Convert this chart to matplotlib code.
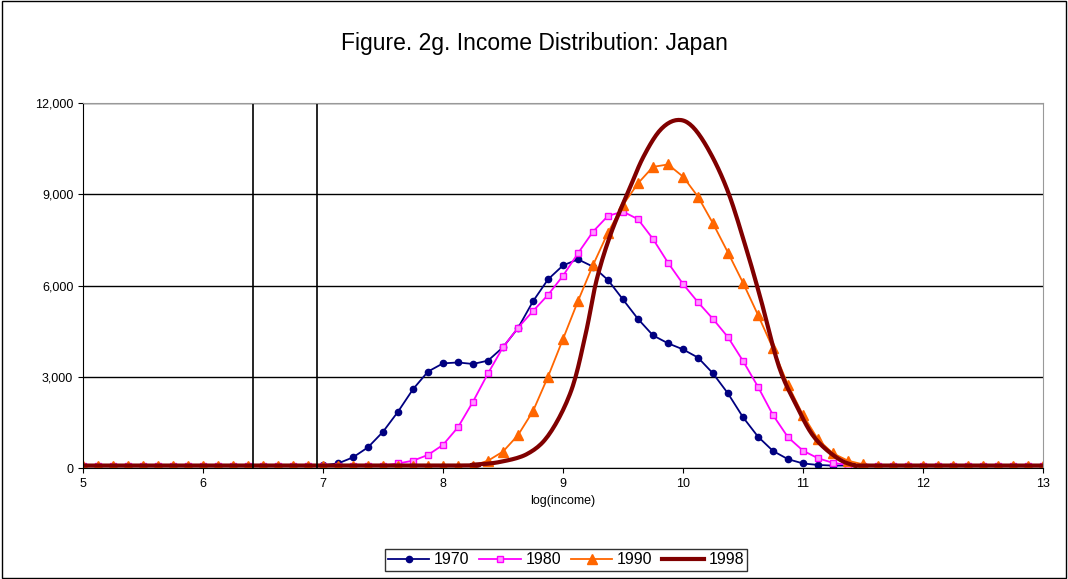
import numpy as np
import matplotlib
matplotlib.use('Agg')
import matplotlib.pyplot as plt
from matplotlib.ticker import FuncFormatter

# x grid: log(income) from 5 to 13, step 1/8
x = 5 + 0.125 * np.arange(65)
floor = 80

y1970 = [floor] * 16 + [90, 150, 350, 680, 1190, 1850, 2590, 3170, 3440, 3470, 3420, 3530,
                        3970, 4600, 5480, 6200, 6660, 6860, 6620, 6180, 5540, 4900, 4360,
                        4100, 3900, 3630, 3110, 2450, 1670, 1030, 560, 290, 150, 100]
y1970 += [floor] * (65 - len(y1970))

y1980 = [floor] * 21 + [150, 240, 430, 760, 1340, 2180, 3110, 3970, 4610, 5160, 5690, 6320,
                        7060, 7770, 8290, 8430, 8180, 7530, 6750, 6050, 5450, 4900, 4300,
                        3520, 2670, 1740, 1010, 570, 320, 170, 100]
y1980 += [floor] * (65 - len(y1980))

y1990 = [floor] * 26 + [80, 240, 540, 1080, 1870, 3000, 4240, 5490, 6670, 7740, 8650, 9360,
                        9900, 9980, 9580, 8920, 8040, 7080, 6090, 5030, 3930, 2730, 1740,
                        940, 480, 240, 120]
y1990 += [floor] * (65 - len(y1990))

x1998 = [5.0, 8.0, 8.25, 8.475, 8.71, 8.89, 9.07, 9.19, 9.28, 9.40, 9.55, 9.67, 9.81, 9.95,
         10.08, 10.23, 10.38, 10.53, 10.65, 10.80, 10.95, 11.09, 11.27, 11.42, 11.6, 13.0]
y1998 = [floor, floor, 110, 200, 480, 1140, 2560, 4430, 6180, 7720, 9140, 10230, 11110, 11440,
         11220, 10340, 9030, 7170, 5520, 3330, 2020, 1030, 370, 100, floor, floor]


def smooth(xs, ys, n=12):
    # Catmull-Rom style smoothing, like Excel's smoothed line
    xs, ys = np.asarray(xs, float), np.asarray(ys, float)
    px = np.concatenate([[xs[0]], xs, [xs[-1]]])
    py = np.concatenate([[ys[0]], ys, [ys[-1]]])
    ox, oy = [], []
    for i in range(1, len(px) - 2):
        t = np.linspace(0, 1, n, endpoint=False)
        for p, o in ((px, ox), (py, oy)):
            p0, p1, p2, p3 = p[i - 1], p[i], p[i + 1], p[i + 2]
            o.extend(0.5 * ((2 * p1) + (-p0 + p2) * t + (2 * p0 - 5 * p1 + 4 * p2 - p3) * t ** 2
                            + (-p0 + 3 * p1 - 3 * p2 + p3) * t ** 3))
    ox.append(xs[-1])
    oy.append(ys[-1])
    return ox, oy


fig = plt.figure(figsize=(10.68, 5.79), dpi=100)
fig.patches.append(plt.Rectangle((0.002, 0.002), 0.996, 0.996, transform=fig.transFigure,
                                 fill=False, edgecolor='black', linewidth=1))
ax = fig.add_axes([0.0777, 0.1917, 0.8989, 0.6304])

ax.plot(x, y1970, color='#000080', marker='o', markersize=4.5, linewidth=1.3, label='1970')
ax.plot(x, y1980, color='#FF00FF', marker='s', markersize=5, markerfacecolor='#FF99FF',
        linewidth=1.3, label='1980')
ax.plot(x, y1990, color='#FF6600', marker='^', markersize=6.5, linewidth=1.3, label='1990')
sx, sy = smooth(x1998, y1998)
ax.plot(sx, sy, color='#800000', linewidth=3, label='1998')

ax.set_xlim(5, 13)
ax.set_ylim(0, 12000)
ax.set_yticks([0, 3000, 6000, 9000, 12000])
ax.set_xticks(range(5, 14))
ax.yaxis.set_major_formatter(FuncFormatter(lambda v, p: f'{int(v):,}'))
ax.grid(axis='y', color='black', linewidth=1)
for xv in [6.42, 6.95]:
    ax.axvline(xv, color='black', linewidth=1.2)
ax.set_axisbelow(True)
for s in ['top', 'right']:
    ax.spines[s].set_color('#999999')
ax.tick_params(labelsize=9, direction='out')
ax.set_xlabel('log(income)', fontsize=9, family='Liberation Sans')
for lab in ax.get_xticklabels() + ax.get_yticklabels():
    lab.set_family('Liberation Sans')

fig.text(0.5, 0.925, 'Figure. 2g. Income Distribution: Japan', ha='center', va='center',
         fontsize=16.5, family='Liberation Sans')
fig.legend(loc='center', bbox_to_anchor=(0.53, 0.033), ncol=4, frameon=True,
           fancybox=False, edgecolor='black', handlelength=2.6,
           columnspacing=0.6, handletextpad=0.3, borderpad=0.2,
           prop={'family': 'Liberation Sans', 'size': 11.5})

fig.savefig('out.png', dpi=100)
